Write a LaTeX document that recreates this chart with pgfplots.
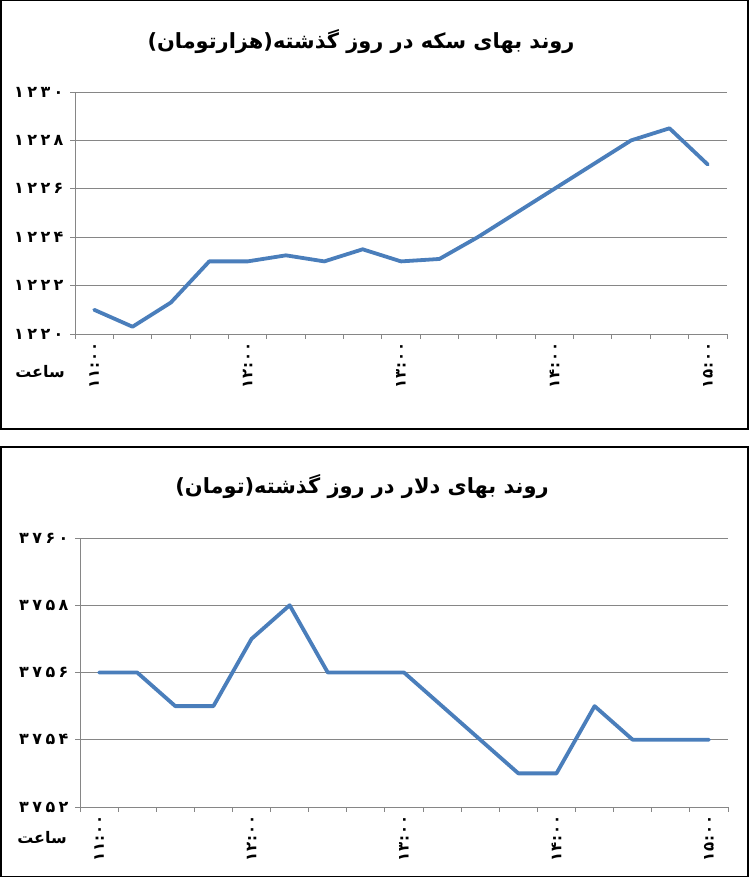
\documentclass[border=0pt]{standalone}
\usepackage{pgfplots}
\pgfplotsset{compat=1.18}
\usepackage{pgfplotstable}
\usepackage{fontspec}
\setmainfont{DejaVu Sans}
\newfontfamily\arabicfont[Script=Arabic]{DejaVu Sans}
\newfontfamily\digitfont[LetterSpace=22]{DejaVu Sans}
\newfontfamily\xdigitfont[LetterSpace=6]{DejaVu Sans}
\TeXXeTstate=1
\definecolor{xlblue}{RGB}{74,126,187}
\definecolor{xlgray}{RGB}{134,134,134}

\pgfplotstableread{
idx val
0 1221.0
1 1220.3
2 1221.3
3 1223.0
4 1223.0
5 1223.25
6 1223.0
7 1223.5
8 1223.0
9 1223.1
10 1224.0
11 1225.0
12 1226.0
13 1227.0
14 1228.0
15 1228.5
16 1227.0
}\coin

\pgfplotstableread{
idx val
0 3756
1 3756
2 3755
3 3755
4 3757
5 3758
6 3756
7 3756
8 3756
9 3755
10 3754
11 3753
12 3753
13 3755
14 3754
15 3754
16 3754
}\dollar

\pgfplotsset{
  xlstyle/.style={
    scale only axis,
    xmin=-0.5, xmax=16.5,
    axis x line*=bottom, axis y line*=left,
    axis line style={xlgray, line width=0.9bp, -},
    ymajorgrids,
    grid style={xlgray, line width=0.9bp},
    tick align=outside,
    major tick length=5bp,
    tick style={xlgray, line width=0.9bp},
    xtick={-0.5,0.5,...,16.5},
    xticklabels={},
    extra x ticks={0,4,8,12,16},
    extra x tick labels={۱۱:۰۰,۱۲:۰۰,۱۳:۰۰,۱۴:۰۰,۱۵:۰۰},
    extra x tick style={major tick length=0pt, grid=none,
      xticklabel style={rotate=90, anchor=east, xshift=-5bp,
        font=\xdigitfont\bfseries\fontsize{15}{15}\selectfont}},
    yticklabel style={font=\digitfont\bfseries\fontsize{16}{16}\selectfont, xshift=-3bp},
  }
}

\begin{document}
\begin{tikzpicture}
\useasboundingbox (0,0) rectangle (750bp,877bp);
\draw[line width=1.5bp] (0.75bp,876.25bp) rectangle (748bp,448bp);
\draw[line width=1.5bp] (0.75bp,430bp) rectangle (748bp,0.75bp);

\node[font=\arabicfont\bfseries\fontsize{21}{25}\selectfont] at (361bp,835bp)
  {\beginR روند بهای سکه در روز گذشته(هزارتومان)\endR};
\node[font=\arabicfont\bfseries\fontsize{16}{16}\selectfont] at (40bp,505bp)
  {\beginR ساعت\endR};

\begin{axis}[xlstyle,
  at={(75bp,543bp)}, anchor=south west,
  width=652bp, height=242bp,
  ymin=1220, ymax=1230,
  ytick={1220,1222,1224,1226,1228,1230},
  yticklabels={۱۲۲۰,۱۲۲۲,۱۲۲۴,۱۲۲۶,۱۲۲۸,۱۲۳۰},
]
\addplot[xlblue, line width=3.8bp, line join=round, line cap=round] table[x=idx,y=val]{\coin};
\end{axis}

\node[font=\arabicfont\bfseries\fontsize{21}{25}\selectfont] at (362bp,390bp)
  {\beginR روند بهای دلار در روز گذشته(تومان)\endR};
\node[font=\arabicfont\bfseries\fontsize{16}{16}\selectfont] at (42bp,39bp)
  {\beginR ساعت\endR};

\begin{axis}[xlstyle,
  at={(80bp,70bp)}, anchor=south west,
  width=648bp, height=269bp,
  ymin=3752, ymax=3760,
  ytick={3752,3754,3756,3758,3760},
  yticklabels={۳۷۵۲,۳۷۵۴,۳۷۵۶,۳۷۵۸,۳۷۶۰},
]
\addplot[xlblue, line width=3.8bp, line join=round, line cap=round] table[x=idx,y=val]{\dollar};
\end{axis}
\end{tikzpicture}
\end{document}
